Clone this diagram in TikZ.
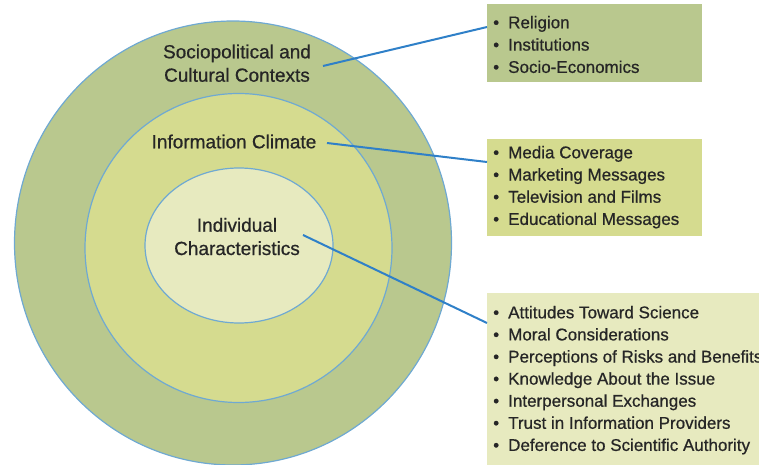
\documentclass[tikz,border=0pt]{standalone}
\usepackage{fontspec}
\setmainfont{Liberation Sans}
\newfontfamily\medfont{Liberation Sans}[FakeBold=0.7]
\usetikzlibrary{shapes.geometric}

\definecolor{ringOuter}{HTML}{B9C88E}
\definecolor{ringMiddle}{HTML}{D5DB8F}
\definecolor{ringInner}{HTML}{E7EABF}
\definecolor{ringEdge}{HTML}{6FA9D2}
\definecolor{linkBlue}{HTML}{2F80C8}

\tikzset{
  ring/.style={ellipse, draw=ringEdge, line width=1.2pt, inner sep=0pt},
  listbox/.style={rectangle, draw=none, inner sep=0pt, anchor=north west},
  ringlabel/.style={font=\medfont\fontsize{19}{23.5}\selectfont, text=black!85, inner sep=0pt, anchor=base},
  item/.style={font=\medfont\fontsize{17}{22}\selectfont, text=black!85, inner sep=0pt, anchor=base west},
  link/.style={draw=linkBlue, line width=2pt}
}
\newcommand{\bulletitem}[1]{\makebox[15pt][l]{\textbullet}#1}

\begin{document}
\begin{tikzpicture}[x=1pt, y=-1pt]
  \useasboundingbox (0,0) rectangle (759,465);
  \clip (0,0) rectangle (759,465);

  % nested context rings
  \node[ring, fill=ringOuter, minimum width=437pt, minimum height=444pt] (outer) at (233,243) {};
  \node[ring, fill=ringMiddle, minimum width=307pt, minimum height=309pt] (middle) at (238.5,248) {};
  \node[ring, fill=ringInner, minimum width=188pt, minimum height=155pt] (inner) at (239,245.5) {};

  % ring labels
  \node[ringlabel] (soc1) at (237,58.3) {Sociopolitical and};
  \node[ringlabel] (soc2) at (237,81.7) {Cultural Contexts};
  \node[ringlabel] (info) at (234,148.3) {Information Climate};
  \node[ringlabel] (ind1) at (237,231.7) {Individual};
  \node[ringlabel] (ind2) at (237,255) {Characteristics};

  % list boxes
  \node[listbox, fill=ringOuter, minimum width=215pt, minimum height=78pt] (b1) at (487,4) {};
  \node[listbox, fill=ringMiddle, minimum width=215pt, minimum height=97pt] (b2) at (487,139) {};
  \node[listbox, fill=ringInner, minimum width=290pt, minimum height=180pt] (b3) at (487,293) {};

  % box contents
  \foreach \txt [count=\i from 0] in {Religion, Institutions, Socio-Economics}
    \node[item] (r\i) at (493,28.3+22.3*\i) {\bulletitem{\txt}};
  \foreach \txt [count=\i from 0] in {Media Coverage, Marketing Messages, Television and Films, Educational Messages}
    \node[item] (m\i) at (493,158.3+22.2*\i) {\bulletitem{\txt}};
  \foreach \txt [count=\i from 0] in {Attitudes Toward Science, Moral Considerations, Perceptions of Risks and Benefits, Knowledge About the Issue, Interpersonal Exchanges, Trust in Information Providers, Deference to Scientific Authority}
    \node[item] (a\i) at (493,318.3+22.1*\i) {\bulletitem{\txt}};

  % connector start points beside the ring labels
  \coordinate (s1) at (323,66);
  \coordinate (s2) at (327,143);
  \coordinate (s3) at (303,235);

  \draw[link] (s1) -- ([yshift=-23pt]b1.north west);
  \draw[link] (s2) -- ([yshift=-23pt]b2.north west);
  \draw[link] (s3) -- ([yshift=-30pt]b3.north west);
\end{tikzpicture}
\end{document}
